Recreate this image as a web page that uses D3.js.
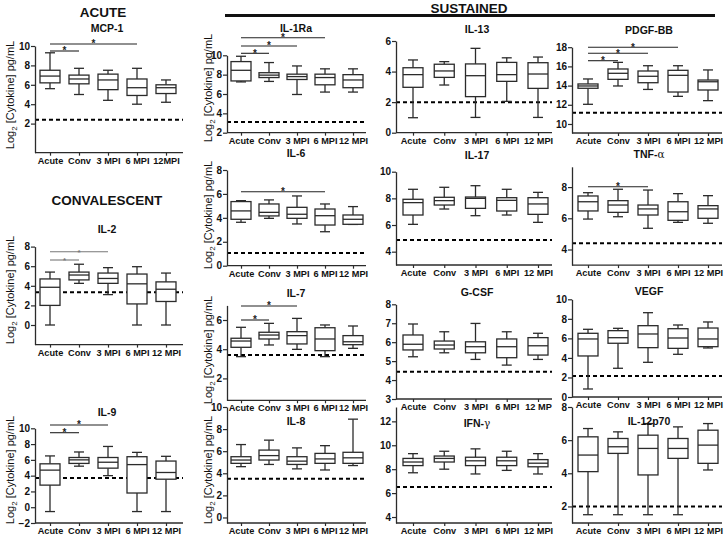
<!DOCTYPE html>
<html><head><meta charset="utf-8">
<script src="https://cdn.jsdelivr.net/npm/d3@7"></script>
<style>body{margin:0;background:#fff}svg{display:block}</style>
</head><body><svg id="c" width="727" height="540"></svg>
<script>
const categories = ["Acute","Conv","3 MPI","6 MPI","12 MPI"];
// each row: [lower whisker, Q1, median, Q3, upper whisker]
const mcp1Stats  = [[5.6,6.2,6.9,7.5,9.3],[5.0,6.1,6.6,7.0,7.7],[4.4,5.5,6.5,7.1,7.5],[4.0,4.9,5.7,6.6,7.7],[4.2,5.1,5.7,6.0,6.5]];
const il2Stats   = [[0.0,2.0,3.85,4.7,5.4],[4.25,4.6,5.1,5.4,6.2],[3.1,4.25,4.75,5.3,5.85],[0.0,2.15,4.2,5.2,5.95],[0.0,2.4,3.65,4.4,5.3]];
const il9Stats   = [[-0.55,2.8,4.7,5.5,6.5],[5.2,5.55,6.0,6.3,7.0],[4.0,4.95,5.7,6.3,7.7],[-0.55,1.8,5.4,6.4,6.95],[-0.55,3.55,4.4,5.85,6.45]];
const il1raStats = [[7.25,7.35,8.45,9.35,9.9],[7.3,7.7,7.95,8.2,9.25],[5.95,7.5,7.8,8.05,8.9],[6.2,6.95,7.7,8.05,8.6],[6.2,6.65,7.45,8.0,8.6]];
const il13Stats  = [[0.98,2.97,3.8,4.25,4.76],[3.12,3.62,4.04,4.48,4.65],[1.0,2.36,3.73,4.5,5.52],[2.05,3.36,3.8,4.6,4.9],[1.0,2.9,3.84,4.58,4.95]];
const pdgfStats  = [[12.05,13.72,13.96,14.17,14.69],[13.96,14.65,15.28,15.73,16.42],[13.6,14.3,14.97,15.52,16.07],[12.88,13.33,15.07,15.59,16.07],[12.43,13.54,14.4,14.58,15.63]];
const il6Stats   = [[3.63,3.88,4.58,5.36,5.44],[3.96,4.16,4.46,5.16,5.5],[3.49,3.96,4.3,4.88,5.83],[2.84,3.4,4.18,4.74,5.16],[3.45,3.46,3.88,4.24,4.94]];
const il17Stats  = [[6.05,6.75,7.68,7.93,8.68],[7.2,7.5,7.83,8.08,8.83],[6.7,7.25,8.0,8.1,8.95],[6.75,7.05,7.85,8.05,8.68],[6.2,6.8,7.58,8.05,8.45]];
const tnfStats   = [[5.95,6.47,7.06,7.43,7.64],[6.1,6.38,6.85,7.13,7.86],[5.36,6.21,6.6,6.85,7.81],[5.74,5.87,6.42,7.06,7.58],[5.68,6.0,6.6,6.81,7.45]];
const il7Stats   = [[3.49,4.13,4.56,4.75,5.5],[4.29,4.7,4.97,5.16,5.77],[3.99,4.36,4.93,5.2,6.11],[3.49,3.9,4.7,5.47,5.66],[4.06,4.31,4.51,4.93,5.59]];
const gcsfStats  = [[5.23,5.59,5.89,6.38,6.96],[5.44,5.64,5.85,6.06,6.55],[5.09,5.44,5.76,6.02,6.99],[4.79,5.18,5.76,6.17,6.55],[5.09,5.32,5.81,6.24,6.47]];
const vegfStats  = [[0.82,4.2,5.94,6.52,6.93],[2.94,5.5,6.07,6.79,7.03],[3.55,5.05,6.45,7.3,8.63],[4.37,4.98,6.04,6.99,7.37],[5.02,5.15,5.94,7.06,7.68]];
const il8Stats   = [[4.6,4.9,5.2,5.5,6.6],[4.8,5.2,5.6,6.1,7.0],[4.4,4.8,5.1,5.5,6.3],[4.3,4.9,5.3,5.8,6.5],[4.7,4.9,5.4,5.9,8.9]];
const ifngStats  = [[7.7,8.3,8.6,8.9,9.3],[8.0,8.6,8.9,9.1,9.5],[7.6,8.3,8.7,9.0,9.7],[7.9,8.3,8.7,9.0,9.5],[7.6,8.2,8.5,8.8,9.3]];
const il12Stats  = [[1.5,4.1,5.1,6.2,6.7],[1.5,5.2,5.6,6.1,6.5],[1.5,3.9,5.5,6.3,7.0],[1.5,4.9,5.5,6.1,6.8],[4.2,4.6,5.7,6.6,7.0]];

// detection limits (dashed lines)
const cutoffs = {mcp1:2.4, il2:3.35, il9:3.7, il1ra:3.1, il13:2.0, pdgf:11.18, il6:1.06, il17:4.88, tnf:4.4, il7:3.6, gcsf:4.44, vegf:2.15, il8:3.5, ifng:6.5, il12:2.0};
// tick values
const ticks = {mcp1:[2,4,6,8,10], il2:[0,2,4,6,8], il9:[-2,0,2,4,6,8,10], il1ra:[2,4,6,8,10], il13:[0,2,4,6], pdgf:[10,12,14,16,18],
  il6:[0,2,4,6,8], il17:[4,6,8,10], tnf:[4,6,8], il7:[2,4,6], gcsf:[3,4,5,6,7,8], vegf:[0,2,4,6,8,10], il8:[0,2,4,6,8,10], ifng:[4,6,8,10,12], il12:[2,4,6,8]};
const domains = {mcp1:[-1,10], il2:[-2,8], il9:[-2,10], il1ra:[2,10], il13:[0,6], pdgf:[9.06,18], il6:[0,8], il17:[3,10], tnf:[3,9.3], il7:[0.5,7], gcsf:[3,8], vegf:[0,10], il8:[-0.5,10], ifng:[3.5,13.2], il12:[1,8]};
// significant comparisons (category index pairs)
const sigs = {mcp1:[[0,1],[0,3]], il2:[[0,1],[0,2]], il9:[[0,1],[0,2]], il1ra:[[0,1],[0,2],[0,3]], pdgf:[[0,1],[0,2],[0,3]], il6:[[0,3]], tnf:[[0,2]], il7:[[0,1],[0,2]]};
const titles = {mcp1:"MCP-1", il2:"IL-2", il9:"IL-9", il1ra:"IL-1Ra", il13:"IL-13", pdgf:"PDGF-BB", il6:"IL-6", il17:"IL-17", tnf:"TNF-", il7:"IL-7", gcsf:"G-CSF", vegf:"VEGF", il8:"IL-8", ifng:"IFN-", il12:"IL-12p70"};
const greek = {tnf:"α", ifng:"γ"};
const statsById = {mcp1:mcp1Stats, il2:il2Stats, il9:il9Stats, il1ra:il1raStats, il13:il13Stats, pdgf:pdgfStats, il6:il6Stats, il17:il17Stats, tnf:tnfStats, il7:il7Stats, gcsf:gcsfStats, vegf:vegfStats, il8:il8Stats, ifng:ifngStats, il12:il12Stats};
const xLabelOverride = {mcp1:["Acute","Conv","3 MPI","6 MPI","12MPI"], gcsf:["Acute","Conv","3 MPI","6 MPI","12 MP"]};

// ---------- layout (pixels) ----------
const colL = {ax:35, x1:50, x2:166, xEnd:183};
const col1 = {ax:227, x1:241, x2:353, xEnd:366};
const col2 = {ax:396, x1:413, x2:538, xEnd:552};
const col3 = {ax:572, x1:588, x2:708, xEnd:722};
const layout = {
  mcp1:{...colL, yB:152.7, yT:46, tY:32, tX:107, sigY:[51,44], ylab:95},
  il2:{...colL, yB:344.6, yT:246.6, tY:233, tX:107, sigY:[260,251.7], ylab:290, sigInk:"#777"},
  il9:{...colL, yB:523, yT:428.3, tY:416, tX:107, sigY:[432.7,425], ylab:470},
  il1ra:{...col1, yB:132.7, yT:55.3, tY:32, tX:296, sigY:[53.3,46,37.7], ylab:88},
  il13:{...col2, yB:132.7, yT:41, tY:33, tX:477},
  pdgf:{...col3, yB:133, yT:47.2, tY:34, tX:649, sigY:[60.7,53.3,47.3]},
  il6:{...col1, yB:265.7, yT:170, tY:157, tX:296, sigY:[191.7], ylab:215},
  il17:{...col2, yB:265, yT:171.7, tY:159, tX:477},
  tnf:{...col3, yB:265.1, yT:166.8, tY:158, tX:649, sigY:[186.7]},
  il7:{...col1, yB:400.3, yT:305.4, tY:297, tX:296, sigY:[320,306], ylab:350},
  gcsf:{...col2, yB:399, yT:304.3, tY:296, tX:477},
  vegf:{...col3, yB:397, yT:299.3, tY:295, tX:649},
  il8:{...col1, yB:523, yT:407, tY:425, tX:296, ylab:470},
  ifng:{...col2, yB:523, yT:407, tY:427, tX:477},
  il12:{...col3, yB:523, yT:407, tY:425, tX:649}
};

const FONT = "'Liberation Sans', Arial, sans-serif";
const INK = "#2b2b2b";
const svg = d3.select("#c").style("font-family", FONT);

// section headings
function heading(x, y, t){ svg.append("text").attr("x",x).attr("y",y).attr("text-anchor","middle").attr("font-size",13.5).attr("font-weight","bold").attr("fill","#111").text(t); }
heading(103, 16.5, "ACUTE");
heading(107, 205, "CONVALESCENT");
heading(469, 12.5, "SUSTAINED");
svg.append("line").attr("x1",225).attr("x2",715).attr("y1",15.5).attr("y2",15.5).attr("stroke","#111").attr("stroke-width",3);

function yLabel(x, yc){
  const t = svg.append("text").attr("transform",`translate(${x},${yc}) rotate(-90)`).attr("text-anchor","middle")
    .attr("font-size",11).attr("fill","#111");
  t.append("tspan").text("Log");
  t.append("tspan").attr("font-size",8).attr("dy",3).text("2");
  t.append("tspan").attr("dy",-3).text(" [Cytokine] pg/mL");
}

Object.keys(layout).forEach(id => {
  const L = layout[id], stats = statsById[id];
  const g = svg.append("g");
  const y = d3.scaleLinear().domain(domains[id]).range([L.yB, L.yT]);
  const x = d3.scalePoint().domain(categories).range([L.x1, L.x2]);

  // cutoff dashed line
  g.append("line").attr("x1",L.ax).attr("x2",L.xEnd).attr("y1",y(cutoffs[id])).attr("y2",y(cutoffs[id]))
    .attr("stroke","#000").attr("stroke-width",2).attr("stroke-dasharray","4,3");

  // boxes
  const bw = 20, cw = 10;
  stats.forEach((s,i) => {
    const cx = x(categories[i]);
    const bg = g.append("g").attr("stroke",INK).attr("stroke-width",1.3).attr("fill","none");
    bg.append("line").attr("x1",cx).attr("x2",cx).attr("y1",y(s[4])).attr("y2",y(s[3]));
    bg.append("line").attr("x1",cx).attr("x2",cx).attr("y1",y(s[1])).attr("y2",y(s[0]));
    bg.append("line").attr("x1",cx-cw/2).attr("x2",cx+cw/2).attr("y1",y(s[4])).attr("y2",y(s[4]));
    bg.append("line").attr("x1",cx-cw/2).attr("x2",cx+cw/2).attr("y1",y(s[0])).attr("y2",y(s[0]));
    bg.append("rect").attr("x",cx-bw/2).attr("width",bw).attr("y",y(s[3])).attr("height",Math.max(0.5,y(s[1])-y(s[3]))).attr("fill","#fff");
    bg.append("line").attr("x1",cx-bw/2).attr("x2",cx+bw/2).attr("y1",y(s[2])).attr("y2",y(s[2]));
  });

  // y axis
  const ya = g.append("g").attr("transform",`translate(${L.ax},0)`)
    .call(d3.axisLeft(y).tickValues(ticks[id]).tickSize(4).tickSizeOuter(0).tickPadding(1).tickFormat(d3.format("d")));
  ya.select(".domain").attr("stroke",INK).attr("stroke-width",1.3);
  ya.selectAll(".tick line").attr("stroke",INK).attr("stroke-width",1.2);
  ya.selectAll("text").attr("font-size",10).attr("font-weight","bold").attr("font-family",FONT).attr("fill","#111");

  // x axis
  g.append("line").attr("x1",L.ax).attr("x2",L.xEnd).attr("y1",L.yB).attr("y2",L.yB).attr("stroke",INK).attr("stroke-width",1.3);
  const labels = xLabelOverride[id] || categories;
  const xa = g.append("g").attr("transform",`translate(0,${L.yB})`)
    .call(d3.axisBottom(x).tickSize(3).tickPadding(1.5).tickFormat((d,i)=>labels[i]));
  xa.select(".domain").remove();
  xa.selectAll(".tick line").attr("stroke",INK).attr("stroke-width",1.2);
  xa.selectAll("text").attr("font-size",9.2).attr("font-weight","bold").attr("font-family",FONT).attr("fill","#111");

  // title
  const tt = g.append("text").attr("x",L.tX).attr("y",L.tY).attr("text-anchor","middle").attr("font-size",10.5).attr("font-weight","bold").attr("fill","#111").text(titles[id]);
  if (greek[id]) tt.append("tspan").attr("font-family","'DejaVu Serif', serif").attr("font-weight","normal").text(greek[id]);

  // significance bars
  const sInk = L.sigInk || "#222";
  (sigs[id]||[]).forEach((p,k) => {
    const yy = L.sigY[k];
    const xa0 = x(categories[p[0]]), xb = x(categories[p[1]]);
    g.append("line").attr("x1",xa0).attr("x2",xb).attr("y1",yy).attr("y2",yy).attr("stroke",sInk).attr("stroke-width",1.1);
    g.append("text").attr("x",(xa0+xb)/2).attr("y",yy+3.2).attr("text-anchor","middle").attr("font-size",L.sigInk?8:10).attr("font-weight","bold").attr("fill",sInk).text("*");
  });

  if (L.ylab !== undefined) yLabel(L.ax===35 ? 14 : 212, L.ylab);
});
</script>
</body></html>
